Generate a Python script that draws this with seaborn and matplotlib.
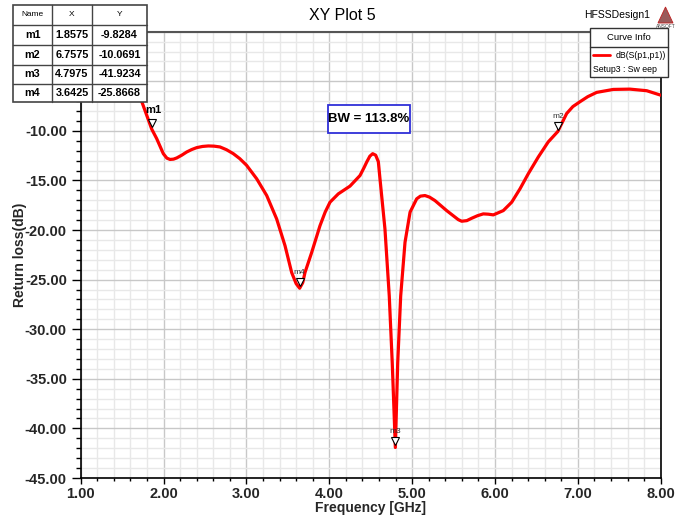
import numpy as np
import pandas as pd
import matplotlib
matplotlib.use("Agg")
import matplotlib.pyplot as plt
import matplotlib.transforms as mtransforms
from matplotlib.patches import Rectangle, Polygon
from matplotlib.lines import Line2D
from matplotlib.ticker import MultipleLocator, FormatStrFormatter, FuncFormatter
import seaborn as sns

# S11 sweep of the antenna (frequency in GHz, return loss in dB)
freq_ghz = [1.60, 1.716, 1.8575, 1.917, 1.997, 2.04, 2.078, 2.12, 2.159, 2.22,
            2.279, 2.340, 2.400, 2.470, 2.540, 2.610, 2.681, 2.760, 2.842, 2.920,
            3.003, 3.124, 3.245, 3.365, 3.466, 3.546, 3.600, 3.6425, 3.680, 3.707,
            3.788, 3.888, 3.950, 4.009, 4.109, 4.250, 4.371, 4.420, 4.452, 4.490,
            4.524, 4.560, 4.592, 4.612, 4.672, 4.724, 4.760, 4.7975, 4.826, 4.862,
            4.914, 4.975, 5.055, 5.100, 5.155, 5.210, 5.276, 5.417, 5.557, 5.598,
            5.660, 5.719, 5.790, 5.859, 5.920, 5.980, 6.100, 6.202, 6.302, 6.402,
            6.523, 6.643, 6.7575, 6.865, 6.940, 7.026, 7.120, 7.227, 7.428, 7.629,
            7.831, 8.000]
return_loss_db = [-3.5, -6.56, -9.8284, -10.78, -12.30, -12.75, -12.88, -12.85, -12.73, -12.45,
                  -12.13, -11.88, -11.69, -11.57, -11.52, -11.54, -11.62, -11.90, -12.30, -12.80,
                  -13.48, -14.83, -16.52, -18.88, -21.58, -24.28, -25.40, -25.8668, -25.30, -24.28,
                  -22.25, -19.56, -18.20, -17.19, -16.35, -15.57, -14.50, -13.70, -13.14, -12.55,
                  -12.30, -12.45, -13.10, -14.83, -19.89, -26.64, -33.39, -41.9234, -33.39, -26.64,
                  -21.24, -18.20, -16.85, -16.58, -16.52, -16.68, -17.03, -18.04, -18.95, -19.11,
                  -19.05, -18.81, -18.55, -18.37, -18.40, -18.47, -18.04, -17.19, -15.84, -14.32,
                  -12.63, -11.11, -10.0691, -8.25, -7.55, -7.06, -6.55, -6.12, -5.82, -5.79,
                  -5.95, -6.40]

# Marker readouts
marker_names = ["m1", "m2", "m3", "m4"]
marker_x = [1.8575, 6.7575, 4.7975, 3.6425]
marker_y = [-9.8284, -10.0691, -41.9234, -25.8668]

title = "XY Plot 5"
design_name = "HFSSDesign1"
x_label = "Frequency [GHz]"
y_label = "Return loss(dB)"
trace_name = "dB(S(p1,p1))"
sweep_name = "Setup3 : Sw eep"
bw_text = "BW = 113.8%"

sns.set_style("white")
plt.rcParams["font.family"] = ["Liberation Sans", "DejaVu Sans"]

W, H = 688, 519
fig = plt.figure(figsize=(W / 100, H / 100), dpi=100)


def fx(px):
    return px / W


def fy(py):
    return 1 - py / H


AX_L, AX_R, AX_T, AX_B = 80.7, 660.7, 31.7, 478
ax = fig.add_axes([fx(AX_L), fy(AX_B), fx(AX_R) - fx(AX_L), fy(AX_T) - fy(AX_B)])

df = pd.DataFrame({"Frequency": freq_ghz, "ReturnLoss": return_loss_db})
sns.lineplot(data=df, x="Frequency", y="ReturnLoss", ax=ax, color="#ff0000",
             linewidth=2.3, sort=True, zorder=5, solid_joinstyle="round",
             solid_capstyle="round")

ax.set_xlim(1.0, 8.0)
ax.set_ylim(-45.0, 0.0)
ax.xaxis.set_major_locator(MultipleLocator(1.0))
ax.xaxis.set_minor_locator(MultipleLocator(0.2))
ax.yaxis.set_major_locator(MultipleLocator(5.0))
ax.yaxis.set_minor_locator(MultipleLocator(1.0))
ax.xaxis.set_major_formatter(FormatStrFormatter("%.2f"))
# the top two labels sit under the marker table
ax.yaxis.set_major_formatter(FuncFormatter(lambda v, _: "" if v > -7.5 else f"{v:.2f}"))

ax.grid(which="major", color="#c8c8c8", linewidth=1.0, zorder=0)
ax.grid(which="minor", color="#e8e8e8", linewidth=1.0, zorder=0)
ax.set_axisbelow(True)

ax.tick_params(axis="y", which="major", direction="out", length=6.5, width=1,
               color="black", labelsize=10.5, pad=3.5)
ax.tick_params(axis="y", which="minor", direction="out", length=3.6, width=1,
               color="black")
ax.tick_params(axis="x", which="major", direction="out", length=4.3, width=1,
               color="black", labelsize=10.5, pad=2.5)
ax.tick_params(axis="x", which="minor", direction="out", length=2.5, width=1,
               color="black")
ax.tick_params(left=True, bottom=True, which="both")
for lab in ax.get_xticklabels() + ax.get_yticklabels():
    lab.set_fontweight("bold")

for side in ["left", "bottom", "right"]:
    ax.spines[side].set_color("black")
    ax.spines[side].set_linewidth(1.2)
ax.spines["top"].set_color("#555555")
ax.spines["top"].set_linewidth(1.5)

ax.set_xlabel(x_label, fontsize=10, fontweight="bold", labelpad=0)
ax.set_ylabel(y_label, fontsize=10, fontweight="bold", va="center")
ax.yaxis.set_label_coords((20.0 - AX_L) / (AX_R - AX_L), 0.5)

# markers: hollow triangles just above the trace with their names
tri_tf = mtransforms.offset_copy(ax.transData, fig=fig, x=0, y=6, units="dots")
for name, mx, my in zip(marker_names, marker_x, marker_y):
    ax.plot([mx], [my], marker="v", markersize=6, markerfacecolor="white",
            markeredgecolor="black", markeredgewidth=0.8, transform=tri_tf,
            zorder=7, clip_on=False)
    if name == "m1":
        lab_tf = mtransforms.offset_copy(ax.transData, fig=fig, x=2, y=14, units="dots")
        ax.text(mx, my, name, transform=lab_tf, ha="center", va="bottom",
                fontsize=8, fontweight="bold", color="black", zorder=7)
    else:
        lab_tf = mtransforms.offset_copy(ax.transData, fig=fig, x=0, y=12, units="dots")
        ax.text(mx, my, name, transform=lab_tf, ha="center", va="bottom",
                fontsize=6, color="#333333", zorder=7)

# bandwidth annotation box
fig.patches.append(Rectangle((fx(328), fy(133)), fx(410) - fx(328), fy(105) - fy(133),
                             transform=fig.transFigure, facecolor="white",
                             edgecolor="#2f2fd8", linewidth=1.3, zorder=10))
fig.text(fx(369), fy(119.5), bw_text, ha="center", va="center", fontsize=9.5,
         fontweight="bold", color="black", zorder=11)

# title and design name
fig.text(fx(342), fy(15), title, ha="center", va="center", fontsize=11.5, color="black")
fig.text(fx(617), fy(15.5), design_name, ha="center", va="center", fontsize=7.5,
         color="black")

# small ANSOFT logo
fig.patches.append(Polygon([(fx(658), fy(23)), (fx(673), fy(23)), (fx(665.5), fy(7))],
                           closed=True, transform=fig.transFigure,
                           facecolor="#9a5a5a", edgecolor="#c02020", linewidth=0.6,
                           zorder=10))
fig.text(fx(665.5), fy(27), "ANSOFT", ha="center", va="center", fontsize=3.5,
         color="#444444", zorder=11)

# curve info legend
lx0, lx1, ly0, ly1, lsep = 590, 668, 27.7, 77.3, 46.7
fig.patches.append(Rectangle((fx(lx0), fy(ly1)), fx(lx1) - fx(lx0), fy(ly0) - fy(ly1),
                             transform=fig.transFigure, facecolor="white",
                             edgecolor="#333333", linewidth=1.0, zorder=10))
fig.lines.append(Line2D([fx(lx0), fx(lx1)], [fy(lsep), fy(lsep)],
                        transform=fig.transFigure, color="#333333", linewidth=1.0,
                        zorder=11))
fig.text(fx(629), fy(37.5), "Curve Info", ha="center", va="center", fontsize=6.8,
         color="black", zorder=11)
fig.lines.append(Line2D([fx(593), fx(610)], [fy(54.5), fy(54.5)],
                        transform=fig.transFigure, color="#ff0000", linewidth=2.0,
                        zorder=11))
fig.text(fx(616), fy(55), trace_name, ha="left", va="center", fontsize=6.3,
         color="black", zorder=11)
fig.text(fx(593), fy(69), sweep_name, ha="left", va="center", fontsize=6.3,
         color="black", zorder=11)

# marker readout table
col_edges = [13, 52, 92, 147]
row_edges = [5, 25, 45, 64.5, 83.5, 102]
fig.patches.append(Rectangle((fx(col_edges[0]), fy(row_edges[-1])),
                             fx(col_edges[-1]) - fx(col_edges[0]),
                             fy(row_edges[0]) - fy(row_edges[-1]),
                             transform=fig.transFigure, facecolor="white",
                             edgecolor="#444444", linewidth=1.2, zorder=10))
for cx in col_edges[1:-1]:
    fig.lines.append(Line2D([fx(cx), fx(cx)], [fy(row_edges[0]), fy(row_edges[-1])],
                            transform=fig.transFigure, color="#444444",
                            linewidth=1.0, zorder=11))
for ry in row_edges[1:-1]:
    fig.lines.append(Line2D([fx(col_edges[0]), fx(col_edges[-1])], [fy(ry), fy(ry)],
                            transform=fig.transFigure, color="#444444",
                            linewidth=1.0, zorder=11))
centers = [(col_edges[i] + col_edges[i + 1]) / 2 for i in range(3)]
header = ["Name", "X", "Y"]
for c, h in zip(centers, header):
    fig.text(fx(c), fy((row_edges[0] + row_edges[1]) / 2), h, ha="center", va="center",
             fontsize=6, color="black", zorder=12)
table_order = ["m1", "m2", "m3", "m4"]
for r, name in enumerate(table_order):
    i = marker_names.index(name)
    yc = (row_edges[r + 1] + row_edges[r + 2]) / 2
    vals = [name, f"{marker_x[i]:.4f}", f"{marker_y[i]:.4f}"]
    for c, v in zip(centers, vals):
        fig.text(fx(c), fy(yc), v, ha="center", va="center", fontsize=7.8,
                 fontweight="bold", color="black", zorder=12)

fig.savefig("out.png", dpi=100)
